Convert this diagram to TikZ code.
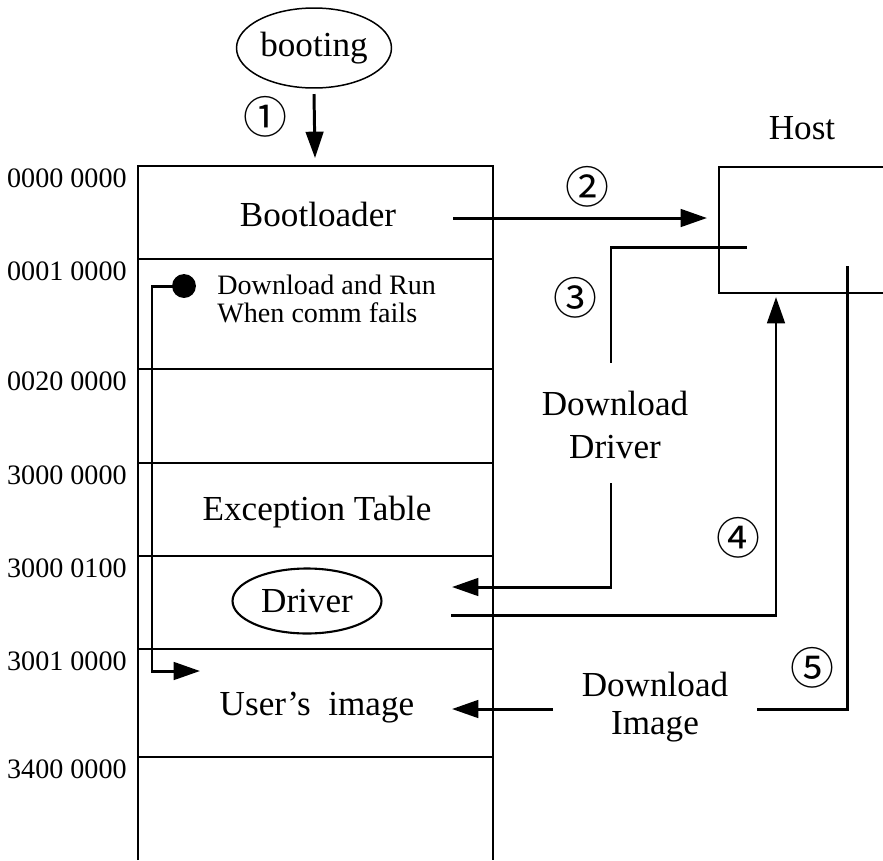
\documentclass[tikz,border=0pt]{standalone}
\usepackage{fontspec}
\setmainfont{Liberation Serif}
\newfontfamily\circfont{Noto Sans CJK SC}
\usetikzlibrary{arrows.meta,shapes.geometric}

\tikzset{
  thinline/.style={line width=0.85pt},
  wire/.style={line width=1.7pt},
  flow/.style={line width=1.7pt,-{Triangle[length=15pt,width=10pt]}},
  bigtext/.style={font=\fontsize{20}{24}\selectfont,inner sep=0pt},
  addr/.style={font=\fontsize{16}{19}\selectfont,anchor=base east,inner sep=0pt},
  smalltext/.style={font=\fontsize{16}{16}\selectfont,inner sep=0pt,align=left},
  circnum/.style={font=\circfont\fontsize{25}{25}\selectfont,inner sep=0pt},
  oval/.style={draw,ellipse,inner sep=0pt},
}

\begin{document}
\begin{tikzpicture}[x=0.02cm,y=-0.02cm]
\useasboundingbox (0,0) rectangle (883,860);

% memory map column, open at the bottom
\draw[thinline] (138,860) -- (138,166) -- (493,166) -- (493,860);
\foreach \y in {259,369,463,556,649,757}
  \draw[thinline] (138,\y) -- (493,\y);

% address labels
\node[addr] (a0) at (127,187) {0000 0000};
\node[addr] (a1) at (127,280) {0001 0000};
\node[addr] (a2) at (127,390) {0020 0000};
\node[addr] (a3) at (127,484) {3000 0000};
\node[addr] (a4) at (127,577) {3000 0100};
\node[addr] (a5) at (127,670) {3001 0000};
\node[addr] (a6) at (127,778) {3400 0000};

% region contents
\node[bigtext] (boot) at (318,214) {Bootloader};
\node[smalltext,anchor=west] (fail) at (217,299) {Download and Run\\When comm fails};
\node[bigtext] (exc) at (317,512) {Exception Table};
\node[oval,line width=1.2pt,minimum width=2.98cm,minimum height=1.3cm,
      font=\fontsize{20}{24}\selectfont] (drv) at (307,601) {Driver};
\node[bigtext] (user) at (317,708) {User’s\ \ image};

% boot source
\node[oval,thinline,minimum width=3.1cm,minimum height=1.6cm,
      font=\fontsize{20}{24}\selectfont] (booting) at (314,48) {booting};

% host box, open on the right
\draw[thinline] (883,167) -- (719,167) -- (719,293) -- (883,293);
\node[bigtext] (host) at (802,128) {Host};

% labels on the links
\node[bigtext,align=center,font=\fontsize{20}{24.4}\selectfont] (dd) at (615,425) {Download\\Driver};
\node[bigtext,align=center,font=\fontsize{20}{21.5}\selectfont] (di) at (655,707) {Download\\Image};

% step numbers
\node[circnum] (n1) at (265,117) {①};
\node[circnum] (n2) at (587,187) {②};
\node[circnum] (n3) at (575,298) {③};
\node[circnum] (n4) at (738,538) {④};
\node[circnum] (n5) at (812,668) {⑤};

% link end points
\coordinate (memtop) at (315,158);
\coordinate (b0) at (453,218);
\coordinate (hostin) at (707,218);
\coordinate (h3) at (747,247);
\coordinate (t3) at (611,247);
\coordinate (d3top) at (611,363);
\coordinate (d3bot) at (611,483);
\coordinate (t3b) at (611,587);
\coordinate (drvin) at (452,587);
\coordinate (drvout) at (451,615);
\coordinate (c4) at (776,615);
\coordinate (hostbot) at (776,297);
\coordinate (h5) at (847,266);
\coordinate (c5) at (847,709);
\coordinate (i5) at (757,709);
\coordinate (i5b) at (553,709);
\coordinate (userin) at (452,709);
\coordinate (dot) at (184,286);
\coordinate (fb1) at (152,286);
\coordinate (fb2) at (152,671);
\coordinate (userjump) at (200,671);

% step 1: boot
\draw[flow] ([yshift=-3pt]booting.south) -- (memtop);
% step 2: bootloader talks to the host
\draw[flow] (b0) -- (hostin);
% step 3: host downloads the driver
\draw[wire] (h3) -- (t3) -- (d3top);
\draw[flow] (d3bot) -- (t3b) -- (drvin);
% step 4: driver reports back to the host
\draw[flow] (drvout) -- (c4) -- (hostbot);
% step 5: host downloads the user image
\draw[wire] (h5) -- (c5) -- (i5);
\draw[flow] (i5b) -- (userin);
% fallback path when communication fails
\fill (dot) circle[radius=6.8pt];
\draw[flow] (dot) -- (fb1) -- (fb2) -- (userjump);
\end{tikzpicture}
\end{document}
